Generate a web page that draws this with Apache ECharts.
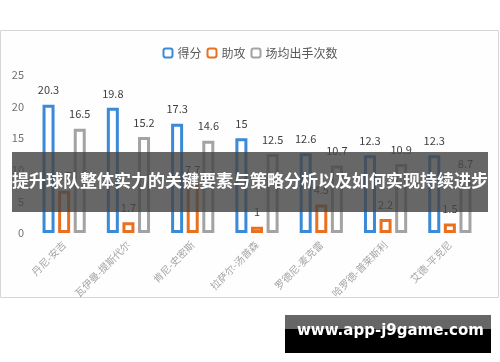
<!DOCTYPE html>
<html><head><meta charset="utf-8">
<script src="https://cdn.jsdelivr.net/npm/echarts@6/dist/echarts.min.js"></script>
<style>html,body{margin:0;padding:0;background:#fff}#c{width:500px;height:362px}</style>
</head><body><div id="c"></div>
<script>
const categories = ['丹尼-安吉','瓦伊曼-提斯代尔','肯尼-史密斯','拉萨尔-汤普森','罗德尼-麦克雷','哈罗德-普莱斯利','艾德-平克尼'];
const points = [20.3, 19.8, 17.3, 15, 12.6, 12.3, 12.3];
const assists = [6.7, 1.7, 7.7, 1, 4.5, 2.2, 1.5];
const shots = [16.5, 15.2, 14.6, 12.5, 10.7, 10.9, 8.7];
const seriesNames = ['得分','助攻','场均出手次数'];
const yTicks = [0, 5, 10, 15, 20, 25];

const colors = ['#3a8ad8', '#e8701e', '#a3a3a3'];
const font = '"Noto Sans CJK SC", "Noto Sans", sans-serif';
const chart = echarts.init(document.getElementById('c'));
function mk(name, data, i) {
  return {
    name, type: 'bar', data,
    barWidth: 12, barGap: '30%',
    itemStyle: { color: '#fff', borderColor: colors[i], borderWidth: 3 },
    label: { show: true, position: 'top', distance: 9, color: '#404040', fontSize: 11, fontFamily: font }
  };
}
chart.setOption({
  animation: false,
  backgroundColor: '#fff',
  textStyle: { fontFamily: font },
  legend: {
    top: 42, left: 'center', itemWidth: 9, itemHeight: 9, itemGap: 5,
    textStyle: { color: '#595959', fontSize: 12, fontFamily: font },
    data: seriesNames
  },
  grid: { left: 32, right: 18, top: 75, bottom: 129 },
  xAxis: {
    type: 'category', data: categories,
    axisLine: { show: false }, axisTick: { show: false },
    axisLabel: { rotate: 45, color: '#a5a5a5', fontSize: 10, margin: 10, interval: 0 }
  },
  yAxis: {
    type: 'value', min: yTicks[0], max: yTicks[yTicks.length - 1], interval: 5,
    splitLine: { show: false }, axisLine: { show: false }, axisTick: { show: false },
    axisLabel: { color: '#707070', fontSize: 11, margin: 8 }
  },
  series: [mk(seriesNames[0], points, 0), mk(seriesNames[1], assists, 1), mk(seriesNames[2], shots, 2)],
  graphic: [
    { type: 'rect', z: -1, shape: { x: 0.5, y: 30.5, width: 498, height: 267 }, style: { fill: '#fefefe', stroke: '#d6d6d6', lineWidth: 1 } },
    { type: 'rect', z: 100, shape: { x: 12, y: 152, width: 476, height: 60 }, style: { fill: 'rgba(70,70,70,0.82)' } },
    { type: 'text', z: 101, left: 'center', top: 172, style: { text: '提升球队整体实力的关键要素与策略分析以及如何实现持续进步', fill: '#fff', font: 'bold 17px "Noto Sans CJK SC", sans-serif' } },
    { type: 'rect', z: 100, shape: { x: 285, y: 315, width: 206, height: 38 }, style: { fill: '#000' } },
    { type: 'rect', z: 100, shape: { x: 285, y: 315, width: 206, height: 14 }, style: { fill: '#666' } },
    { type: 'text', z: 101, left: 297, top: 324, style: { text: 'www.app-j9game.com', fill: '#fff', font: 'bold 15px "DejaVu Sans", sans-serif' } }
  ]
});
</script></body></html>
